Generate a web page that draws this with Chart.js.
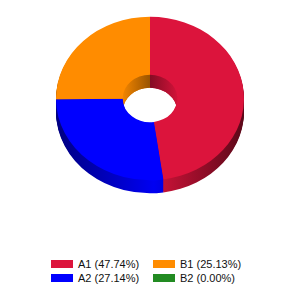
<!DOCTYPE html>
<html>
<head>
<meta charset="utf-8">
<script src="https://cdn.jsdelivr.net/npm/chart.js@4"></script>
<style>
  html, body { margin: 0; padding: 0; background: #fff; overflow: hidden; }
  #wrap { position: relative; width: 300px; height: 300px; }
  #c { position: absolute; left: 0; top: 0; }
  #legend { position: absolute; left: 51px; top: 257px; display: grid;
            grid-template-columns: 102px auto; grid-auto-rows: 14px;
            font-family: "Liberation Sans", Arial, sans-serif; font-size: 11px; color: #111; }
  .item { display: flex; align-items: center; white-space: nowrap; line-height: 14px; }
  .box { width: 22px; height: 8px; margin-right: 5px; flex: none; }
</style>
</head>
<body>
<div id="wrap">
  <canvas id="c" width="300" height="197"></canvas>
  <div id="legend"></div>
</div>
<script>
// ---- data ----
const categories = ['A1', 'A2', 'B1', 'B2'];
const values = [47.74, 27.14, 25.13, 0.00];
const colors = ['#DC143C', '#0000FF', '#FF8C00', '#228B22'];

// ---- 3D look ----
const TILT = 0.87;   // vertical squash of the disc
const DEPTH = 13;    // thickness in px

function shade(hex, f) {
  const n = parseInt(hex.slice(1), 16);
  const r = Math.round(((n >> 16) & 255) * f);
  const g = Math.round(((n >> 8) & 255) * f);
  const b = Math.round((n & 255) * f);
  return 'rgb(' + r + ',' + g + ',' + b + ')';
}

function faceTransform(ctx, cy, dy) {
  ctx.translate(0, cy + dy);
  ctx.scale(1, TILT);
  ctx.translate(0, -cy);
}

function drawLayers(chart, arcs, gradFor) {
  const ctx = chart.ctx;
  for (let d = DEPTH; d >= 1; d--) {
    ctx.save();
    faceTransform(ctx, arcs[0].y, d);
    arcs.forEach((arc, i) => {
      const el = Object.create(arc);
      el.options = Object.assign({}, arc.options, { backgroundColor: gradFor(ctx, arc, i), borderWidth: 0 });
      Chart.ArcElement.prototype.draw.call(el, ctx);
    });
    ctx.restore();
  }
}

const pie3d = {
  id: 'pie3d',
  beforeDatasetsDraw(chart) {
    const ctx = chart.ctx;
    const arcs = chart.getDatasetMeta(0).data;
    if (!arcs.length) return;
    const cx = arcs[0].x, cy = arcs[0].y;
    const R = arcs[0].outerRadius, r = arcs[0].innerRadius;

    // outer wall
    drawLayers(chart, arcs, (c, arc, i) => {
      const g = c.createLinearGradient(cx - R, 0, cx + R, 0);
      g.addColorStop(0, shade(colors[i], 0.5));
      g.addColorStop(0.52, shade(colors[i], 0.95));
      g.addColorStop(1, shade(colors[i], 0.42));
      return g;
    });

    // inner wall (visible through the hole)
    ctx.save();
    ctx.beginPath();
    ctx.ellipse(cx, cy, r, r * TILT, 0, 0, Math.PI * 2);
    ctx.clip();
    drawLayers(chart, arcs, (c, arc, i) => {
      const g = c.createLinearGradient(cx - r, 0, cx + r, 0);
      g.addColorStop(0, shade(colors[i], 0.95));
      g.addColorStop(0.5, shade(colors[i], 0.6));
      g.addColorStop(1, shade(colors[i], 0.95));
      return g;
    });
    ctx.restore();

    // top face transform, restored after datasets are drawn
    ctx.save();
    faceTransform(ctx, cy, 0);
  },
  afterDatasetsDraw(chart) {
    chart.ctx.restore();
  }
};

const chart = new Chart(document.getElementById('c'), {
  type: 'doughnut',
  data: {
    labels: categories,
    datasets: [{ data: values, backgroundColor: colors, borderWidth: 0 }]
  },
  options: {
    responsive: false,
    animation: false,
    radius: 94,
    cutout: '29%',
    layout: { padding: 0 },
    plugins: { legend: { display: false }, tooltip: { enabled: false } }
  },
  plugins: [pie3d]
});

// HTML legend built from the chart's own legend items (column-major, 2 rows)
const items = chart.options.plugins.legend.labels.generateLabels(chart);
const legend = document.getElementById('legend');
legend.style.gridAutoFlow = 'column';
legend.style.gridTemplateRows = '14px 14px';
items.forEach((it, i) => {
  const div = document.createElement('div');
  div.className = 'item';
  const box = document.createElement('span');
  box.className = 'box';
  box.style.background = it.fillStyle;
  const txt = document.createElement('span');
  txt.textContent = categories[i] + ' (' + values[i].toFixed(2) + '%)';
  div.appendChild(box);
  div.appendChild(txt);
  legend.appendChild(div);
});
</script>
</body>
</html>
